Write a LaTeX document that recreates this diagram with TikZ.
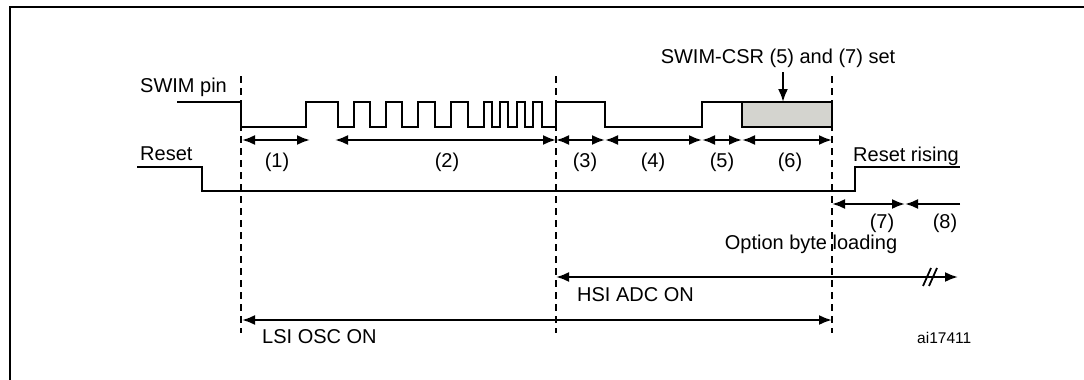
\documentclass[tikz,border=0pt]{standalone}
\usepackage{fontspec}
\setmainfont{Liberation Sans}
\usepackage{tikz}
\usetikzlibrary{arrows.meta,positioning,calc}
\definecolor{boxgray}{RGB}{212,212,207}

\begin{document}
\begin{tikzpicture}[x=1pt,y=-1pt,
	wave/.style={line width=2.4pt},
	guide/.style={line width=2.6pt,dash pattern=on 7pt off 5pt},
	span/.style={line width=2.2pt,{Latex[length=13pt,width=10pt]}-{Latex[length=13pt,width=10pt]}},
	tip/.style={line width=2.2pt,-{Latex[length=13pt,width=10pt]}},
	lbl/.style={inner sep=0pt,anchor=base,font=\fontsize{20}{23}\selectfont}]
	\useasboundingbox (0,0) rectangle (1084,380);
	\draw[line width=2.5pt] (10,380) -- (10,7) -- (1084,7); % Frame
	\coordinate (t1) at (241,76); % time marks
	\coordinate (t2) at (556,76);
	\coordinate (t3) at (832,76);
	\draw[guide] (t1) -- ++(0,257);
	\draw[guide] (t2) -- ++(0,257);
	\draw[guide] (t3) -- ++(0,257);
	% SWIM pin
	\node[lbl,anchor=base west] (swim) at (140,92) {SWIM pin};
	\draw[wave] (177,102) -| (241,127) -| (306,102) -| (338,127) -| (354,102) -| (370,127)
		-| (386,102) -| (402,127) -| (418,102) -| (435,127) -| (451,102) -| (468,127)
		-| (484,102) -| (492,127) -| (500,102) -| (508,127) -| (517,102) -| (525,127)
		-| (533,102) -| (542,127) -| (556,102) -| (605,127) -| (702,102) -- (742,102);
	\draw[wave,fill=boxgray] (742,102) rectangle (832,127); % CSR set
	\node[lbl] (csr) at (778,63) {SWIM-CSR (5) and (7) set};
	\draw[tip] (783,72) -- (783,102);
	% Reset
	\node[lbl,anchor=base west] (rst) at (140,160) {Reset};
	\draw[wave] (137,167) -| (202,191) -| (855,167) -- (960,167);
	\node[lbl,anchor=base west] (rise) at (853,161) {Reset rising};
	% phases
	\draw[span] (242,140) -- (310,140);
	\draw[span] (335,140) -- (556,140);
	\draw[span] (556,140) -- (605,140);
	\draw[span] (605,140) -- (702,140);
	\draw[span] (702,140) -- (742,140);
	\draw[span] (742,140) -- (832,140);
	\node[lbl] (p1) at (277,167) {(1)};
	\node[lbl] (p2) at (447,167) {(2)};
	\node[lbl] (p3) at (585,167) {(3)};
	\node[lbl] (p4) at (653,167) {(4)};
	\node[lbl] (p5) at (722,167) {(5)};
	\node[lbl] (p6) at (790,167) {(6)};
	\draw[span] (832,204) -- (905,204);
	\draw[tip] (960,204) -- (905,204);
	\node[lbl] (p7) at (882,228) {(7)};
	\node[lbl] (p8) at (945,228) {(8)};
	\node[lbl] (obl) at (811,249) {Option byte loading};
	% clocks
	\draw[span] (556,277) -- (958,277);
	\draw[line width=1.8pt] (923,286) -- (931,268) (929,286) -- (937,268); % break
	\node[lbl,anchor=base west] (hsi) at (577,301) {HSI ADC ON};
	\draw[span] (242,320) -- (832,320);
	\node[lbl,anchor=base west] (lsi) at (262,343) {LSI OSC ON};
	\node[lbl,anchor=base west,font=\fontsize{15.5}{18}\selectfont] (ref) at (917,343) {ai17411};
\end{tikzpicture}
\end{document}
